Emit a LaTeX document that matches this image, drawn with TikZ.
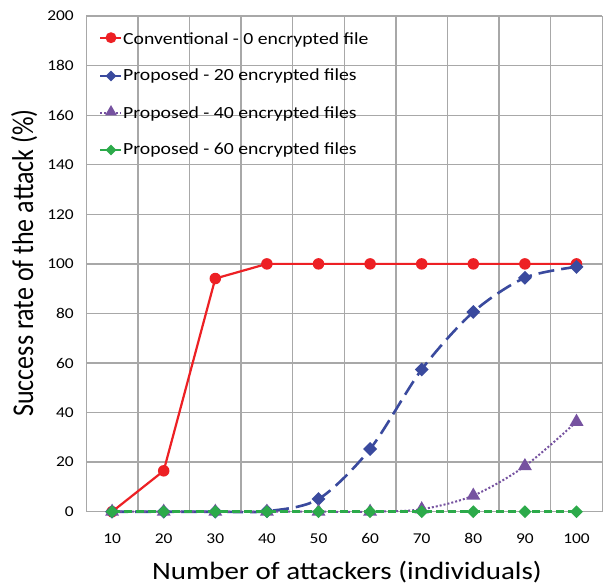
\documentclass[tikz,border=0pt]{standalone}
\usepackage{fontspec}
\setmainfont{Carlito}
\usetikzlibrary{shapes.geometric}
\definecolor{cred}{RGB}{237,32,36}
\definecolor{cblue}{RGB}{58,74,158}
\definecolor{cpurple}{RGB}{118,82,160}
\definecolor{cgreen}{RGB}{44,170,74}
\definecolor{cgrid}{RGB}{168,168,168}
\newcommand{\wide}[1]{\scalebox{1.16}[1]{#1}}
\newcommand{\tall}[1]{\scalebox{1}[1.16]{#1}}
\begin{document}
\begin{tikzpicture}[x=1pt,y=1pt,
  gridline/.style={draw=cgrid,line width=1.3pt},
  tick/.style={font=\fontsize{15}{18}\selectfont,text=black,inner sep=0pt},
  legtext/.style={font=\fontsize{17}{20}\selectfont,anchor=base west,inner sep=0pt},
  redline/.style={draw=cred,line width=2.2pt},
  blueline/.style={draw=cblue,line width=2.6pt,dash pattern=on 16pt off 7pt},
  purpleline/.style={draw=cpurple,line width=2pt,dash pattern=on 2pt off 2pt},
  greenline/.style={draw=cgreen,line width=2.6pt,dash pattern=on 8pt off 4pt},
  redmark/.style={circle,fill=cred,inner sep=0pt,minimum size=11.5pt},
  bluemark/.style={diamond,fill=cblue,inner sep=0pt,minimum size=14pt},
  purplemark/.style={isosceles triangle,isosceles triangle apex angle=60,shape border rotate=90,fill=cpurple,inner sep=0pt,minimum height=12pt,minimum width=14pt},
  greenmark/.style={diamond,fill=cgreen,inner sep=0pt,minimum size=13pt},
]
\useasboundingbox (0,0) rectangle (607,586);
\fill[white] (0,0) rectangle (607,586);
\begin{scope}[shift={(60.5pt,74.3pt)},x=5.16pt,y=2.478pt]
  % grid
  \foreach \gx in {5,15,...,105} \draw[gridline] (\gx,0) -- (\gx,200);
  \foreach \gy in {0,20,...,200} {
    \draw[gridline] (5,\gy) -- (105,\gy);
    \node[tick,anchor=east] (yt\gy) at (2.6,\gy) {\wide{\gy}};
  }
  \foreach \gx in {10,20,...,100} \node[tick] (xt\gx) at (\gx,-10.8) {\wide{\gx}};
  % series lines
  \draw[redline] plot[sharp plot] coordinates {(10,0) (20,16.5) (30,94.1) (40,100) (50,100) (60,100) (70,100) (80,100) (90,100) (100,100)};
  \foreach \px/\py in {10/0,20/16.5,30/94.1,40/100,50/100,60/100,70/100,80/100,90/100,100/100}
    \node[redmark] (r\px) at (\px,\py) {};
  \draw[blueline] plot[smooth,tension=0.5] coordinates {(10,0) (20,0) (30,0) (40,0.2) (50,5.1) (60,25.3) (70,57.4) (80,80.6) (90,94.4) (100,98.8)};
  \foreach \px/\py in {10/0,20/0,30/0,40/0.2,50/5.1,60/25.3,70/57.4,80/80.6,90/94.4,100/98.8}
    \node[bluemark] (b\px) at (\px,\py) {};
  \draw[purpleline] plot[smooth,tension=0.5] coordinates {(10,0) (20,0) (30,0) (40,0) (50,0) (60,0) (70,1) (80,6.5) (90,18.4) (100,36.3)};
  \foreach \px/\py in {10/0,20/0,30/0,40/0,50/0,60/0,70/1,80/6.5,90/18.4,100/36.3}
    \node[purplemark] (p\px) at (\px,\py) {};
  \draw[greenline] (10,0) -- (100,0);
  \foreach \px in {10,20,...,100}
    \node[greenmark] (g\px) at (\px,0) {};
\end{scope}
% axis titles
\node[font=\fontsize{25}{30}\selectfont,inner sep=0pt,anchor=base] (xlab) at (347,6.7) {\wide{Number of attackers (individuals)}};
\node[font=\fontsize{26}{30}\selectfont,inner sep=0pt,anchor=base,rotate=90] (ylab) at (33,323) {\tall{Success rate of the attack (\%)}};
% legend
\coordinate (l1a) at (100,548.3); \coordinate (l1b) at (121,548.3);
\draw[redline] (l1a) -- (l1b);
\node[redmark,minimum size=11pt] (lm1) at (111,548.3) {};
\node[legtext] (lt1) at (123,541.7) {\wide{Conventional - 0 encrypted file}};
\coordinate (l2a) at (100,510); \coordinate (l2b) at (121,510);
\draw[draw=cblue,line width=2.6pt] (l2a) -- (l2b);
\node[bluemark,minimum size=11pt] (lm2) at (111,510) {};
\node[legtext] (lt2) at (123,505) {\wide{Proposed - 20 encrypted files}};
\coordinate (l3a) at (100,473); \coordinate (l3b) at (121,473);
\draw[purpleline] (l3a) -- (l3b);
\node[purplemark,minimum height=10pt,minimum width=12pt] (lm3) at (111,474) {};
\node[legtext] (lt3) at (123,467.7) {\wide{Proposed - 40 encrypted files}};
\coordinate (l4a) at (100,436); \coordinate (l4b) at (121,436);
\draw[draw=cgreen,line width=2.6pt] (l4a) -- (l4b);
\node[greenmark,minimum size=11pt] (lm4) at (111,436) {};
\node[legtext] (lt4) at (123,431) {\wide{Proposed - 60 encrypted files}};
\end{tikzpicture}
\end{document}
